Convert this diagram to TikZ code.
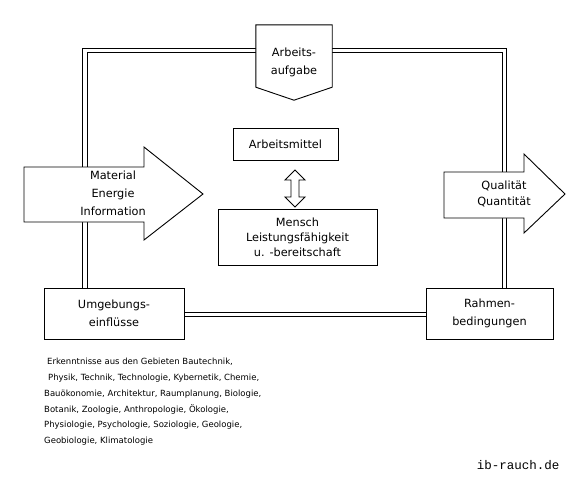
\documentclass[tikz,border=0pt]{standalone}
\usepackage{fontspec}
\setmainfont{DejaVu Sans}
\newfontfamily\webfont{Liberation Mono}
\usepackage{tikz}
\usetikzlibrary{calc, positioning}

\begin{document}
\begin{tikzpicture}[x=1pt, y=-1pt,
    box/.style={draw, fill=white, line width=0.9pt, inner sep=0pt,
      align=center, font=\fontsize{11.3}{18}\selectfont},
    ringline/.style={draw, line width=0.9pt},
    bigarrow/.style={draw, fill=white, line width=0.9pt, line join=miter},
    arrowtext/.style={align=center, inner sep=0pt,
      font=\fontsize{11.3}{18}\selectfont},
    notes/.style={align=left, inner sep=0pt,
      font=\fontsize{8.5}{15.8}\selectfont},
  ]
    \useasboundingbox (0,0) rectangle (588,477);

    % doppelter Rahmen
    \coordinate (ecklo) at (84.75, 50.25);
    \coordinate (eckru) at (504.5, 314.5);
    \draw[ringline] ([shift={(-2.25,-2.25)}]ecklo) rectangle ([shift={(2.25,2.25)}]eckru);
    \draw[ringline] ([shift={(2.25,2.25)}]ecklo) rectangle ([shift={(-2.25,-2.25)}]eckru);

    % Aufgabe, Umgebung und Bedingungen
    \node[inner sep=0pt, minimum width=76pt, minimum height=75pt] (aufgabe) at (294, 62.5) {};
    \draw[bigarrow] (aufgabe.north west) -- ([yshift=13pt]aufgabe.south west) -- (aufgabe.south)
      -- ([yshift=13pt]aufgabe.south east) -- (aufgabe.north east) -- cycle;
    \node[arrowtext] (aufgabetext) at (aufgabe) {Arbeits-\\aufgabe};

    \node[box, minimum width=140pt, minimum height=51pt] (umgebung) at (114, 313.5) {Umgebungs-\\einflüsse};
    \node[box, minimum width=127pt, minimum height=51pt] (rahmen) at (489.5, 313.5) {Rahmen-\\bedingungen};

    % Eingang und Ausgang
    \draw[bigarrow] (24,167) -- (144,167) -- (144,147) -- (203,194) -- (144,240)
      -- (144,222) -- (24,222) -- cycle;
    \node[arrowtext] (eingang) at (113, 193) {Material\\Energie\\Information};

    \draw[bigarrow] (444,172) -- (524,172) -- (524,154) -- (565,194) -- (524,233)
      -- (524,218) -- (444,218) -- cycle;
    \node[arrowtext, font=\fontsize{11.3}{16}\selectfont] (ausgang) at (504, 194) {Qualität\\Quantität};

    % Mensch und Arbeitsmittel
    \node[box, minimum width=105pt, minimum height=32pt] (mittel) at (285.5, 144) {Arbeitsmittel};
    \node[box, minimum width=159pt, minimum height=56pt,
      font=\fontsize{11.3}{15}\selectfont] (mensch) at (297.5, 237) {Mensch\\Leistungsfähigkeit\\u. -bereitschaft};

    \coordinate (dtop) at (295, 170);
    \coordinate (dbot) at (295, 207);
    \draw[bigarrow] (dtop) -- ++(10,10) -- ++(-6,0) -- ++(0,17) -- ++(6,0) -- (dbot)
      -- ++(-10,-10) -- ++(6,0) -- ++(0,-17) -- ++(-6,0) -- cycle;

    \node[notes, anchor=north west] (gebiete) at (44, 358)
      {\hspace{3pt}Erkenntnisse aus den Gebieten Bautechnik,\\
       \hspace{4pt}Physik, Technik, Technologie, Kybernetik, Chemie,\\
       Bauökonomie, Architektur, Raumplanung, Biologie,\\
       Botanik, Zoologie, Anthropologie, Ökologie,\\
       Physiologie, Psychologie, Soziologie, Geologie,\\
       Geobiologie, Klimatologie};

    \node[inner sep=0pt, font=\webfont\fontsize{12.5}{14}\selectfont] (web) at (518, 465) {ib-rauch.de};
  \end{tikzpicture}
\end{document}
